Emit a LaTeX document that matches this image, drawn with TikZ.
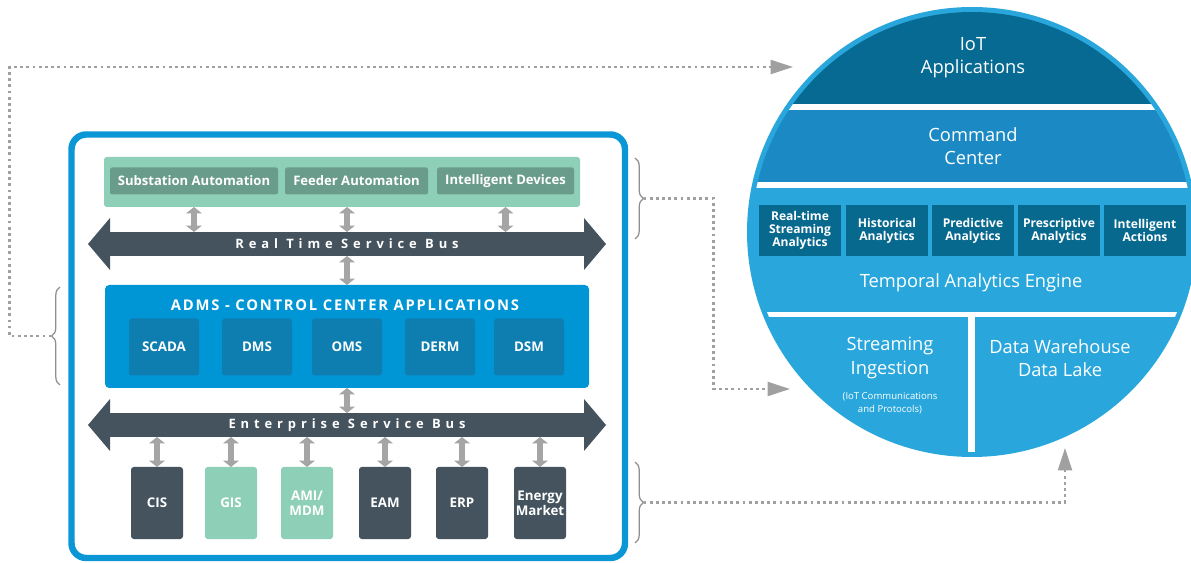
\documentclass[tikz,border=0pt]{standalone}
\usepackage{fontspec}
\setmainfont{Open Sans}
\usetikzlibrary{arrows.meta}
\usetikzlibrary{positioning}
\usetikzlibrary{decorations.pathreplacing}

\definecolor{frameblue}{HTML}{0B97D5}
\definecolor{fieldgreen}{HTML}{8ECFB8}
\definecolor{fielddark}{HTML}{6A9C8C}
\definecolor{busdark}{HTML}{44535E}
\definecolor{admsblue}{HTML}{0096D6}
\definecolor{appblue}{HTML}{0E7DB0}
\definecolor{linkgray}{HTML}{A5A5A5}
\definecolor{flowgray}{HTML}{A0A0A0}
\definecolor{bracegray}{HTML}{8F8F8F}
\definecolor{ringblue}{HTML}{29A7DC}
\definecolor{iotblue}{HTML}{066A93}
\definecolor{cmdblue}{HTML}{1B8AC4}
\definecolor{anablue}{HTML}{08698F}

\def\pxu{0.025cm}

\tikzset{
  fieldbox/.style = {fill=fielddark, rounded corners=1.5pt, minimum height=27*\pxu, inner sep=0, outer sep=0, text=white, font=\fontsize{9.3}{11}\selectfont\bfseries},
  bus/.style = {fill=busdark, minimum width=474*\pxu, minimum height=24*\pxu, inner sep=0, outer sep=0, text=white, font=\fontsize{9.2}{11}\selectfont\bfseries\addfontfeature{LetterSpace=38}},
  appbox/.style = {fill=appblue, rounded corners=2pt, minimum width=70*\pxu, minimum height=57*\pxu, inner sep=0, outer sep=0, text=white, font=\fontsize{9.5}{11}\selectfont\bfseries},
  sysbox/.style = {rounded corners=2pt, minimum width=52*\pxu, minimum height=72*\pxu, inner sep=0, outer sep=0, text=white, align=center, font=\fontsize{9.5}{10.5}\selectfont\bfseries},
  anabox/.style = {fill=anablue, minimum width=82*\pxu, minimum height=51*\pxu, inner sep=0, text=white, align=center, font=\fontsize{8.6}{9.4}\selectfont\bfseries},
  layer/.style = {text=white, align=center, font=\fontsize{13}{16.5}\selectfont},
  link/.style = {draw=linkgray, line width=4.6pt, {Triangle[width=11pt,length=4.5pt]}-{Triangle[width=11pt,length=4.5pt]}},
  flow/.style = {draw=flowgray, line width=1.5pt, dash pattern=on 2pt off 2.4pt, -{Triangle[width=10pt,length=16pt]}},
  curly/.style = {draw=bracegray, line width=0.9pt, decorate, decoration={brace, amplitude=6pt}},
}

\begin{document}
\begin{tikzpicture}[x=0.025cm, y=-0.025cm]
  \useasboundingbox (0,0) rectangle (1191,563);

  % system frame
  \draw[frameblue, line width=4.6pt, rounded corners=10.5pt] (71.5,134.5) rectangle (625,558);

  % field devices
  \node [fill=fieldgreen, rounded corners=2pt, minimum width=476*\pxu, minimum height=50*\pxu, inner sep=0, outer sep=0] (field) at (342,182) {};
  \node [fieldbox, minimum width=168*\pxu] (sa) at (194,181) {Substation Automation};
  \node [fieldbox, minimum width=143*\pxu] (fa) at (356.5,181) {Feeder Automation};
  \node [fieldbox, minimum width=137*\pxu] (idv) at (505.5,181) {Intelligent Devices};

  % service buses
  \node [bus] (rtsb) at (347,244) {Real Time Service Bus};
  \node [bus] (esb) at (347,425) {Enterprise Service Bus};
  \foreach \b in {rtsb,esb} {
    \fill[busdark] (\b.north west) -- ++(0,-14) -- ++(-22,26) -- ++(22,26) -- ++(0,-14) -- cycle;
    \fill[busdark] (\b.north east) -- ++(0,-14) -- ++(22,26) -- ++(-22,26) -- ++(0,-14) -- cycle;
  }

  % ADMS
  \node [fill=admsblue, rounded corners=3pt, minimum width=484*\pxu, minimum height=103*\pxu, inner sep=0, outer sep=0] (adms) at (347,336.5) {};
  \node [text=white, font=\fontsize{10.5}{12}\selectfont\bfseries\addfontfeature{LetterSpace=12}] (admst) at (345,305) {ADMS - CONTROL CENTER APPLICATIONS};
  \foreach \x/\name/\lab in {164/scada/SCADA, 257/dms/DMS, 347/oms/OMS, 440/derm/DERM, 529/dsm/DSM}
    \node [appbox] (\name) at (\x,347) {\lab};

  % enterprise systems
  \foreach \x/\name/\col/\lab in {157/cis/busdark/CIS, 231/gis/fieldgreen/GIS, 307/ami/fieldgreen/{AMI/\\MDM}, 385/eam/busdark/EAM, 462/erp/busdark/ERP, 540/em/busdark/{Energy\\Market}} {
    \node [sysbox, fill=\col] (\name) at (\x,503) {\lab};
    \draw [link] (\name.north |- esb.south) -- (\name.north);
  }

  % links
  \draw [link] (sa.south |- field.south) -- (sa.south |- rtsb.north);
  \draw [link] (rtsb.north |- field.south) -- (rtsb.north);
  \draw [link] (idv.south |- field.south) -- (idv.south |- rtsb.north);
  \draw [link] (rtsb.south) -- (adms.north);
  \draw [link] (adms.south) -- (esb.north);

  % braces
  \draw [curly] (60,385) -- (60,287);
  \draw [curly] (635,158) -- (635,239);
  \draw [curly] (635,462) -- (635,543);
  \coordinate (lbr) at (51.5,336);
  \coordinate (rbr1) at (643.5,198.5);
  \coordinate (rbr2) at (643.5,502.5);

  % platform circle
  \fill[ringblue] (972,232) circle [radius=225*\pxu];
  \begin{scope}
    \clip (972,232) circle [radius=220*\pxu];
    \fill[iotblue] (740,0) rectangle (1200,104);
    \fill[white] (740,104) rectangle (1200,110);
    \fill[cmdblue] (740,110) rectangle (1200,182);
    \fill[white] (740,182) rectangle (1200,188);
    \fill[white] (740,312) rectangle (1200,317);
    \fill[white] (968,317) rectangle (975,470);
  \end{scope}

  \node [layer] (iot) at (973,58) {IoT\\Applications};
  \node [layer] (cmd) at (973,146) {Command\\Center};
  \foreach \x/\name/\lab in {800/rts/{Real-time\\Streaming\\Analytics}, 887/hist/{Historical\\Analytics}, 973/pred/{Predictive\\Analytics}, 1059/presc/{Prescriptive\\Analytics}, 1145/act/{Intelligent\\Actions}}
    \node [anabox] (\name) at (\x,230.5) {\lab};
  \node [layer, font=\fontsize{13}{15}\selectfont] (tae) at (971,283) {Temporal Analytics Engine};
  \node [layer] (ingest) at (890,358) {Streaming\\Ingestion};
  \node [text=white, align=center, font=\fontsize{6.8}{9.3}\selectfont] (ingnote) at (890,403.5) {(IoT Communications\\and Protocols)};
  \node [layer] (dwh) at (1060,358) {Data Warehouse\\Data Lake};

  % flows
  \coordinate (iotin) at (793,67);
  \coordinate (ingin) at (790,389);
  \coordinate (dwhin) at (1065,448);
  \draw [flow] (lbr) -- ++(-42,0) |- (iotin);
  \draw [flow] (rbr1) -- ++(70,0) |- (ingin);
  \draw [flow] (rbr2) -| (dwhin);
\end{tikzpicture}
\end{document}
